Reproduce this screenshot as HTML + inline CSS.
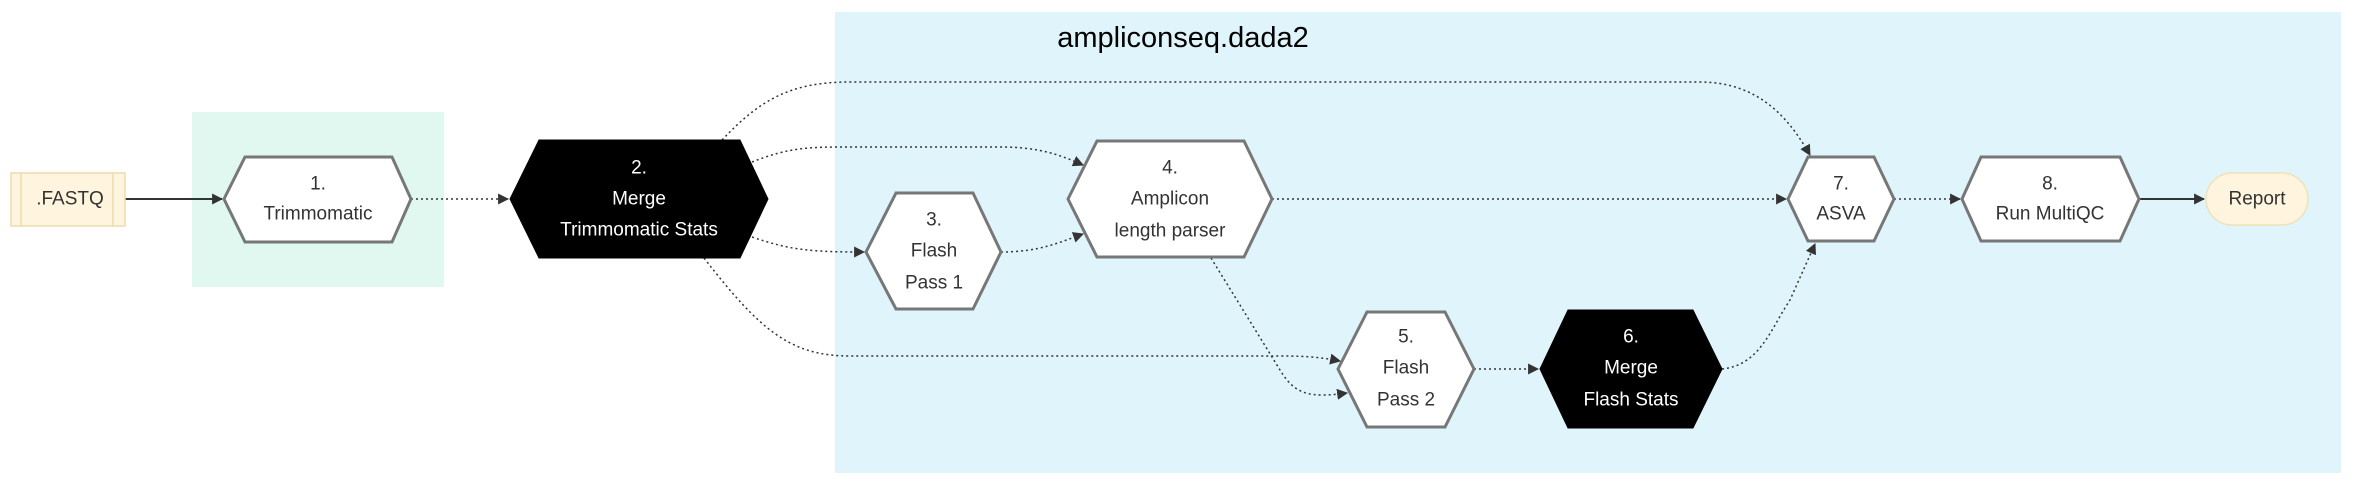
<!DOCTYPE html>
<html><head><meta charset="utf-8"><style>
html,body{margin:0;padding:0;background:#fff;}
svg{display:block;}
text{font-family:"Liberation Sans",sans-serif;font-size:19px;text-anchor:middle;dominant-baseline:central;fill:#333;}
.w{fill:#fff;}
.e{fill:none;stroke:#333;stroke-width:1.5;stroke-dasharray:2,3;}
.s{fill:none;stroke:#333;stroke-width:2;}
.hx{fill:#fff;stroke:#777;stroke-width:3;}
.bk{fill:#000;stroke:#000;}
</style></head><body>
<svg width="2368" height="488" viewBox="0 0 2368 488" xmlns="http://www.w3.org/2000/svg">
<defs><marker id="a" viewBox="0 0 10 10" refX="9" refY="5" markerWidth="8" markerHeight="8" markerUnits="userSpaceOnUse" orient="auto"><path d="M0,0L10,5L0,10z" fill="#333"/></marker>
<marker id="b" viewBox="0 0 10 10" refX="9" refY="5" markerWidth="11" markerHeight="11" markerUnits="userSpaceOnUse" orient="auto"><path d="M0,0L10,5L0,10z" fill="#333"/></marker></defs>
<rect x="835" y="12" width="1506" height="461" fill="#dff4fb"/>
<rect x="192" y="112" width="252" height="175" fill="#e0f8f0"/>
<text x="1183" y="38" style="font-size:29px;fill:#000">ampliconseq.dada2</text>

<!-- edges -->
<path class="s" d="M125,199 L222,199" marker-end="url(#b)"/>
<path class="e" d="M411,199 L508,199" marker-end="url(#b)"/>
<path class="e" d="M722,140 C760,100 790,82 850,82 L1700,82 C1760,82 1790,120 1810,155" marker-end="url(#b)"/>
<path class="e" d="M752,162 C790,147 810,147 850,147 L1000,147 C1040,147 1060,155 1083,165" marker-end="url(#b)"/>
<path class="e" d="M752,237 C790,250 810,252 864,252" marker-end="url(#b)"/>
<path class="e" d="M704,258 C760,330 790,356 850,356 L1280,356 C1310,356 1325,358 1340,361" marker-end="url(#b)"/>
<path class="e" d="M1001,252 C1040,252 1060,242 1083,234" marker-end="url(#b)"/>
<path class="e" d="M1211,258 L1280,370 C1295,395 1310,398 1347,393" marker-end="url(#b)"/>
<path class="e" d="M1272,199 L1786,199" marker-end="url(#b)"/>
<path class="e" d="M1474,369 L1538,369" marker-end="url(#b)"/>
<path class="e" d="M1722,369 C1760,365 1770,330 1790,300 L1815,244" marker-end="url(#b)"/>
<path class="e" d="M1894,199 L1960,199" marker-end="url(#b)"/>
<path class="s" d="M2139,199 L2204,199" marker-end="url(#b)"/>

<!-- FASTQ -->
<rect x="11" y="173" width="114" height="53" fill="#fff4dd" stroke="#ecdcae" stroke-width="1.5"/>
<line x1="21" y1="173" x2="21" y2="226" stroke="#ecdcae" stroke-width="1.5"/>
<line x1="113" y1="173" x2="113" y2="226" stroke="#ecdcae" stroke-width="1.5"/>
<text x="70" y="199">.FASTQ</text>

<polygon class="hx" points="224,199 245,157 392,157 411,199 392,242 245,242"/>
<text x="318" y="184">1.</text><text x="318" y="214">Trimmomatic</text>

<polygon class="bk" points="510,199 539,140 740,140 768,199 740,258 539,258"/>
<text class="w" x="639" y="168">2.</text><text class="w" x="639" y="199">Merge</text><text class="w" x="639" y="230">Trimmomatic Stats</text>

<polygon class="hx" points="866,252 896,193 973,193 1001,252 973,309 896,309"/>
<text x="934" y="220">3.</text><text x="934" y="251">Flash</text><text x="934" y="283">Pass 1</text>

<polygon class="hx" points="1068,199 1097,141 1244,141 1272,199 1244,257 1097,257"/>
<text x="1170" y="168">4.</text><text x="1170" y="199">Amplicon</text><text x="1170" y="231">length parser</text>

<polygon class="hx" points="1338,369 1367,312 1445,312 1474,369 1445,427 1367,427"/>
<text x="1406" y="337">5.</text><text x="1406" y="368">Flash</text><text x="1406" y="400">Pass 2</text>

<polygon class="bk" points="1540,369 1568,310 1693,310 1722,369 1693,428 1568,428"/>
<text class="w" x="1631" y="337">6.</text><text class="w" x="1631" y="368">Merge</text><text class="w" x="1631" y="400">Flash Stats</text>

<polygon class="hx" points="1788,199 1808,157 1874,157 1894,199 1874,241 1808,241"/>
<text x="1841" y="184">7.</text><text x="1841" y="214">ASVA</text>

<polygon class="hx" points="1962,199 1981,157 2120,157 2139,199 2120,241 1981,241"/>
<text x="2050" y="184">8.</text><text x="2050" y="214">Run MultiQC</text>

<rect x="2206" y="173" width="102" height="52" rx="26" fill="#fff4dd" stroke="#f0e2b6" stroke-width="1.5"/>
<text x="2257" y="199">Report</text>
</svg>
</body></html>
